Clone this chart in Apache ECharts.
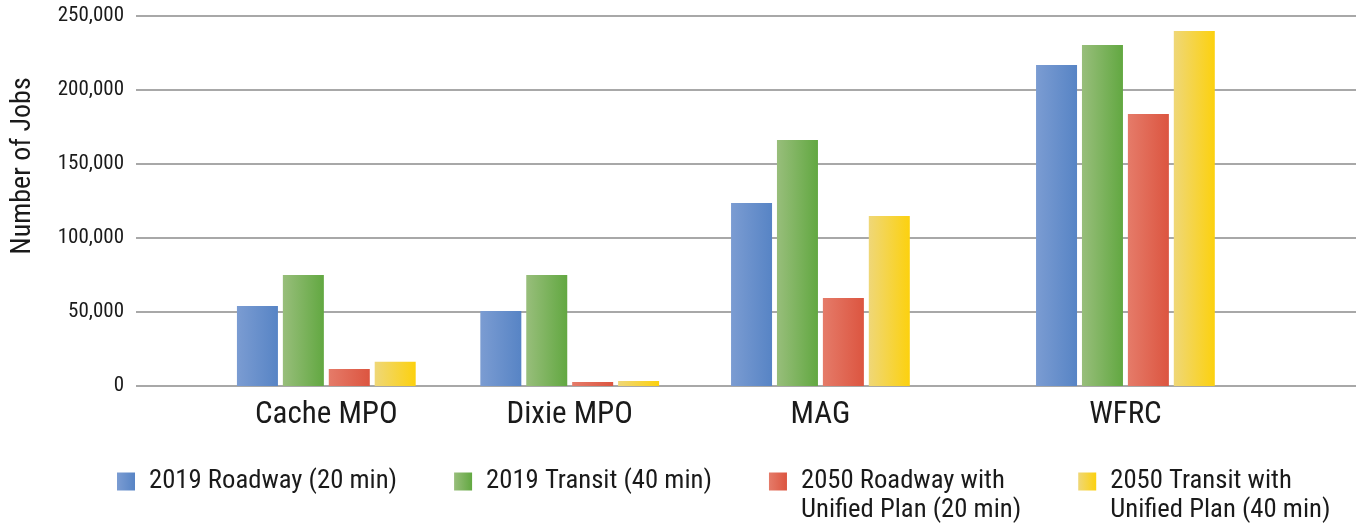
<!DOCTYPE html>
<html>
<head>
<meta charset="utf-8">
<script src="https://cdn.jsdelivr.net/npm/echarts@6/dist/echarts.min.js"></script>
<style>
html,body{margin:0;padding:0;background:#fff;}
#chart{width:1356px;height:527px;}
</style>
</head>
<body>
<div id="chart"></div>
<script>
var categories = ['Cache MPO', 'Dixie MPO', 'MAG', 'WFRC'];
var seriesNames = ['2019 Roadway (20 min)', '2019 Transit (40 min)', '2050 Roadway with\nUnified Plan (20 min)', '2050 Transit with\nUnified Plan (40 min)'];
var roadway2019 = [54000, 50700, 123600, 216900];
var transit2019 = [75000, 75000, 166200, 230400];
var roadway2050 = [11500, 2700, 59500, 183800];
var transit2050 = [16400, 3400, 114900, 239900];
var yTicks = [0, 50000, 100000, 150000, 200000, 250000];

// layout of category groups along a 0-100 horizontal scale
var groupPositions = [15.6, 35.55, 56.1, 81.1];

var FONT = "'Roboto Condensed', 'DejaVu Sans Condensed', sans-serif";
var gradients = [
  ['#7b9cd2', '#5784c5'],
  ['#98be7b', '#62a841'],
  ['#e57b69', '#dc5540'],
  ['#efd778', '#fcd10e']
];
function grad(c) {
  return {type: 'linear', x: 0, y: 0, x2: 1, y2: 0,
    colorStops: [{offset: 0, color: c[0]}, {offset: 1, color: c[1]}]};
}
var valuesList = [roadway2019, transit2019, roadway2050, transit2050];
var series = valuesList.map(function (vals, si) {
  return {
    name: seriesNames[si],
    type: 'bar',
    barWidth: 41,
    barGap: '12%',
    itemStyle: {color: grad(gradients[si])},
    data: vals.map(function (v, i) { return [groupPositions[i], v]; })
  };
});

var chart = echarts.init(document.getElementById('chart'), null, {renderer: 'canvas'});
chart.setOption({
  animation: false,
  backgroundColor: '#ffffff',
  grid: {left: 136, right: 0, top: 16, bottom: 141, containLabel: false, outerBoundsMode: 'none'},
  xAxis: {
    type: 'value',
    min: 0, max: 100,
    splitLine: {show: false},
    axisLine: {show: false},
    axisTick: {show: false},
    axisLabel: {
      customValues: groupPositions,
      formatter: function (v) {
        var idx = groupPositions.indexOf(v);
        return idx >= 0 ? categories[idx] : '';
      },
      margin: 14,
      color: '#1a1a1a',
      fontFamily: FONT,
      fontSize: 31
    }
  },
  yAxis: {
    type: 'value',
    min: yTicks[0], max: yTicks[yTicks.length - 1], interval: 50000,
    name: 'Number of Jobs',
    nameLocation: 'middle',
    nameRotate: 90,
    nameGap: 99,
    nameTextStyle: {color: '#1a1a1a', fontFamily: FONT, fontSize: 28, padding: [0, 0, 0, 70]},
    axisLine: {show: false},
    axisTick: {show: false},
    splitLine: {lineStyle: {color: '#a8a8a8', width: 2}},
    axisLabel: {
      margin: 12,
      color: '#1a1a1a',
      fontFamily: FONT,
      fontSize: 21,
      formatter: function (v) { return v.toLocaleString('en-US'); }
    }
  },
  legend: {
    left: 112,
    right: 0,
    top: 433,
    orient: 'horizontal',
    itemWidth: 18,
    itemHeight: 18,
    itemGap: 57,
    icon: 'rect',
    formatter: function (name) {
      return name.indexOf('\n') >= 0 ? ' \n' + name : name;
    },
    textStyle: {color: '#1a1a1a', fontFamily: FONT, fontSize: 26.7, lineHeight: 29, padding: [0, 0, 0, 9]},
    data: seriesNames
  },
  series: series
});
</script>
</body>
</html>
